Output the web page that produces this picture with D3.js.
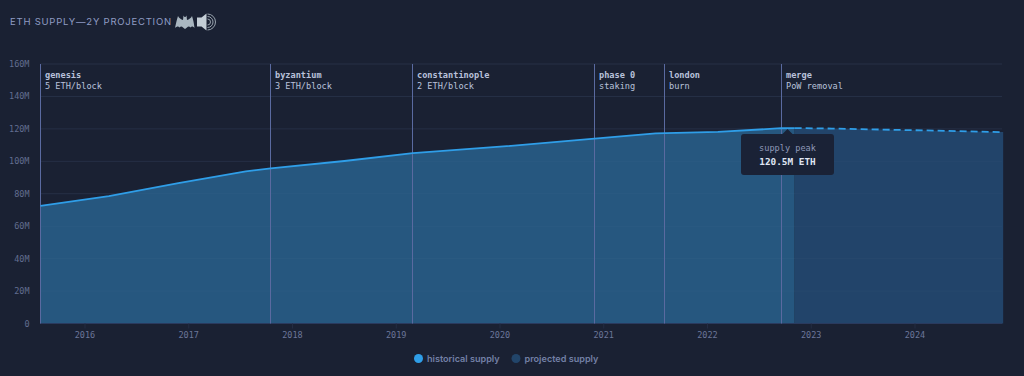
<!DOCTYPE html>
<html><head><meta charset="utf-8">
<script src="https://cdn.jsdelivr.net/npm/d3@7"></script>
<style>html,body{margin:0;padding:0;background:#1a2133;overflow:hidden}svg{display:block}</style>
</head><body><svg id="c" width="1024" height="376"></svg>
<script>
const titleText = "ETH SUPPLY—2Y PROJECTION";
const yTicks = [0,20,40,60,80,100,120,140,160];
const xTicks = [2016,2017,2018,2019,2020,2021,2022,2023,2024];
const histT = [2015.57,2016.23,2016.9,2017.55,2017.79,2018.5,2019.16,2020.0,2020.91,2021.5,2022.1,2022.71,2022.84];
const histV = [72.5,78.5,86.5,93.8,95.6,100.2,105,109,114,117.2,118.1,120.4,120.5];
const projT = [2022.84,2023.2,2023.8,2024.3,2024.85];
const projV = [120.5,120.2,119.4,118.8,118];
const eventNames = ["genesis","byzantium","constantinople","phase 0","london","merge"];
const eventSubs = ["5 ETH/block","3 ETH/block","2 ETH/block","staking","burn","PoW removal"];
const eventT = [2015.57,2017.79,2019.16,2020.91,2021.585,2022.71];
const legendNames = ["historical supply","projected supply"];
const legendColors = ["#2f9ee8","#22456a"];

const mono = "'DejaVu Sans Mono','Liberation Mono',monospace";
const svg = d3.select("#c");
const x = d3.scaleLinear().domain([2016,2024]).range([85,915]);
const y = d3.scaleLinear().domain([0,160]).range([323.5,64]);
const L = x(2015.57), R = 1002;
const snap = t=>Math.floor(x(t))+.5;

svg.append("text").attr("x",10).attr("y",25).attr("fill","#8f9cc4")
  .style("font","400 9.5px Inter").style("letter-spacing","0.77px").text(titleText);

const g = svg.append("g");
g.selectAll("line.g").data(yTicks).join("line").attr("x1",L).attr("x2",R)
  .attr("y1",d=>y(d)).attr("y2",d=>y(d)).attr("stroke","#232c43").attr("stroke-width",1);

const area = d3.area().x(d=>x(d[0])).y0(y(0)).y1(d=>y(d[1]));
const line = d3.line().x(d=>x(d[0])).y(d=>y(d[1]));
const hist = histT.map((t,i)=>[t,histV[i]]), proj = projT.map((t,i)=>[t,projV[i]]);
g.append("path").attr("d",area(hist)).attr("fill","#26577f");
g.append("path").attr("d",area(proj)).attr("fill","#22446a");
g.selectAll("line.g2").data(yTicks).join("line").attr("x1",L).attr("x2",R)
  .attr("y1",d=>y(d)).attr("y2",d=>y(d)).attr("stroke","#ffffff").attr("stroke-opacity",.025);
g.append("line").attr("x1",L).attr("x2",R).attr("y1",y(0)).attr("y2",y(0)).attr("stroke","#2a3a5e");
g.selectAll("line.t").data(xTicks).join("line").attr("x1",d=>x(d)).attr("x2",d=>x(d))
  .attr("y1",y(0)).attr("y2",y(0)+5).attr("stroke","#232c43");
g.selectAll("line.e").data(eventT).join("line").attr("x1",snap).attr("x2",snap)
  .attr("y1",y(160)).attr("y2",y(0)).attr("stroke","#5a6aa0").attr("stroke-width",1);
g.append("path").attr("d",line(hist)).attr("fill","none").attr("stroke","#2f9ee8").attr("stroke-width",1.8);
g.append("path").attr("d",line(proj)).attr("fill","none").attr("stroke","#2f9ee8").attr("stroke-width",1.8).attr("stroke-dasharray","7 4");

svg.selectAll("text.y").data(yTicks).join("text").attr("x",29.5).attr("y",d=>y(d)+3).attr("text-anchor","end")
  .attr("fill","#626e90").style("font","8.5px "+mono).text(d=>d?d+"M":"0");
svg.selectAll("text.x").data(xTicks).join("text").attr("x",d=>x(d)).attr("y",338).attr("text-anchor","middle")
  .attr("fill","#6b7699").style("font","8.5px "+mono).text(d=>d);

eventT.forEach((t,i)=>{
  const px=Math.floor(x(t))+5;
  svg.append("text").attr("x",px).attr("y",78).attr("fill","#b9c1db").style("font","600 8.6px "+mono).text(eventNames[i]);
  svg.append("text").attr("x",px).attr("y",89).attr("fill","#b9c1db").style("font","8.6px "+mono).text(eventSubs[i]);
});

// tooltip
const tx=787.5;
svg.append("path").attr("d",`M744,134 H${tx-5} L${tx},129 L${tx+5},134 H831 q3,0 3,3 V172 q0,3 -3,3 H744 q-3,0 -3,-3 V137 q0,-3 3,-3 Z`).attr("fill","#1a2236");
svg.append("text").attr("x",787.5).attr("y",151).attr("text-anchor","middle").attr("fill","#8f99b8").style("font","8.6px "+mono).text("supply peak");
svg.append("text").attr("x",787.5).attr("y",164.5).attr("text-anchor","middle").attr("fill","#dfe4f2").style("font","700 9.4px "+mono).text("120.5M ETH");

// legend
[[418.5,427],[516,524.5]].forEach((p,i)=>{
  svg.append("circle").attr("cx",p[0]).attr("cy",358.5).attr("r",4.5).attr("fill",legendColors[i]);
  svg.append("text").attr("x",p[1]).attr("y",361.5).attr("fill","#7380a6").style("font","600 9.1px Inter").text(legendNames[i]);
});

// decorative icons
svg.append("path").attr("fill","#a9b6c0").attr("d","M175,28 C176,23 177,19 178,16 C179,18 181,19.5 183,20 L183.5,15.5 L184.5,17 L185.5,17 L186.5,15.5 L187,20 C189,19.5 191,18 192,16 C193,19 194,23 194.5,28 C193,26 191.5,26 190.5,27.5 C189.5,26 188,26 187,27.5 L185,29 L183,27.5 C182,26 180.5,26 179.5,27.5 C178.5,26 177,26 175,28 Z");
svg.append("path").attr("fill","#c4ced6").attr("d","M197,17.5 h4.5 l5,-4 v17 l-5,-4 h-4.5 Z");
[3,5.5,8].forEach(r=>svg.append("path").attr("fill","none").attr("stroke","#a5b0ba").attr("stroke-width",.9)
  .attr("d",`M${207.5},${22-r} A${r},${r} 0 0 1 ${207.5},${22+r}`));
</script></body></html>
